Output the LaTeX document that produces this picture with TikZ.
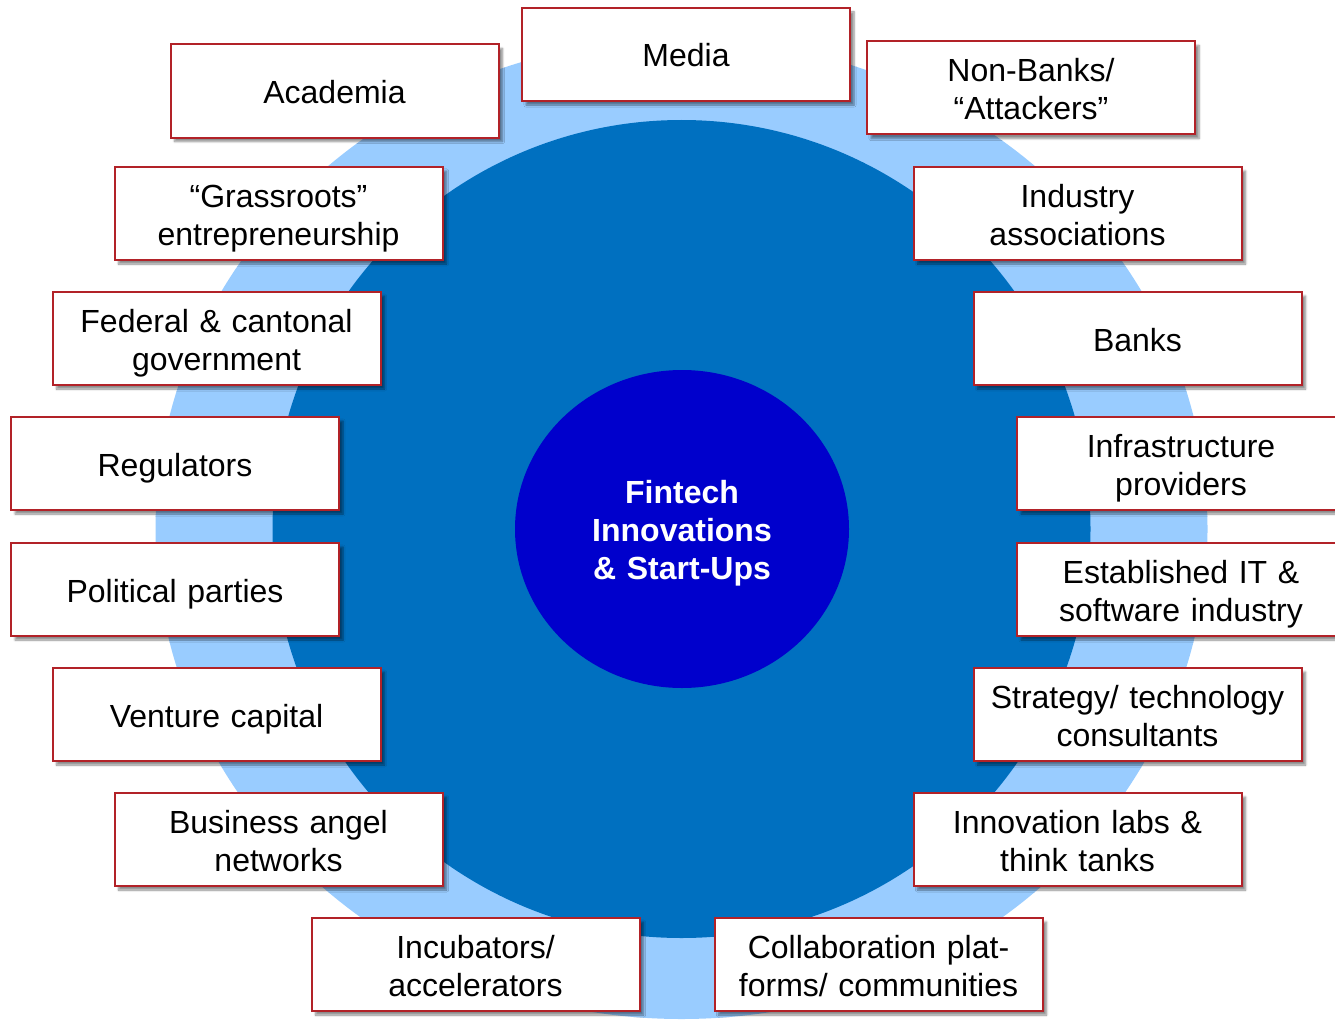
\documentclass[tikz,border=0pt]{standalone}
\usepackage{fontspec}
\setmainfont{Liberation Sans}
\usepackage{tikz}
\usetikzlibrary{shapes.geometric}
\usetikzlibrary{shadows.blur}
\definecolor{lblue}{RGB}{153,204,255}
\definecolor{mblue}{RGB}{0,112,192}
\definecolor{dblue}{RGB}{0,0,204}
\definecolor{dred}{RGB}{178,34,40}
\newcommand{\topstrut}{\rule[-7pt]{0pt}{39pt}}
\newcommand{\botstrut}{\rule[-7pt]{0pt}{7pt}}

\begin{document}
\begin{tikzpicture}[x=1pt,y=-1pt,font=\fontsize{32}{38}\selectfont]
      \tikzstyle{actor}=[draw=dred,line width=2pt,fill=white,minimum width=328pt,minimum height=93pt,
        inner sep=0pt,text width=320pt,align=center,
        execute at begin node=\topstrut,execute at end node=\botstrut,
        blur shadow={shadow xshift=4pt,shadow yshift=-4pt,shadow blur steps=6,shadow opacity=45}]
      \tikzstyle{hub}=[ellipse,fill=dblue,text=white,font=\fontsize{32}{38}\selectfont\bfseries,
        minimum width=334pt,minimum height=318pt,inner sep=0pt,text width=200pt,align=center,
        execute at begin node=\topstrut,execute at end node=\botstrut]

      \useasboundingbox (0,0) rectangle (1335,1022);
      \clip (0,0) rectangle (1335,1022);

      % rings
      \fill[lblue] (681.5,529) ellipse [x radius=526pt, y radius=490pt];
      \fill[mblue] (681.5,529) circle [radius=409pt];

      \node[hub]	(hub) at (682,529) {Fintech\\Innovations\\\& Start-Ups};

      % left side
      \node[actor]	(media)	at (686,54.5)	{Media};
      \node[actor]	(acad)	at (334.5,91)	{Academia};
      \node[actor]	(grass)	at (278.5,213.5)	{“Grassroots”\\entrepreneurship};
      \node[actor]	(gov)	at (216.5,338.5)	{Federal \& cantonal\\government};
      \node[actor]	(reg)	at (175,463.5)	{Regulators};
      \node[actor]	(pol)	at (175,589.5)	{Political parties};
      \node[actor]	(vc)	at (216.5,714.5)	{Venture capital};
      \node[actor]	(angel)	at (278.5,839.5)	{Business angel\\networks};
      \node[actor]	(incub)	at (475.5,964.5)	{Incubators/\\accelerators};

      % right side
      \node[actor]	(nonbank)	at (1031,88)	{Non-Banks/\\“Attackers”};
      \node[actor]	(assoc)	at (1077.5,213.5)	{Industry\\associations};
      \node[actor]	(banks)	at (1137.5,338.5)	{Banks};
      \node[actor]	(infra)	at (1181,463.5)	{Infrastructure\\providers};
      \node[actor]	(it)	at (1181,589.5)	{Established IT \&\\software industry};
      \node[actor]	(consult)	at (1137.5,714.5)	{Strategy/ technology\\consultants};
      \node[actor]	(labs)	at (1077.5,839.5)	{Innovation labs \&\\think tanks};
      \node[actor]	(collab)	at (878.5,964.5)	{Collaboration plat-\\forms/ communities};

  \end{tikzpicture}
\end{document}
